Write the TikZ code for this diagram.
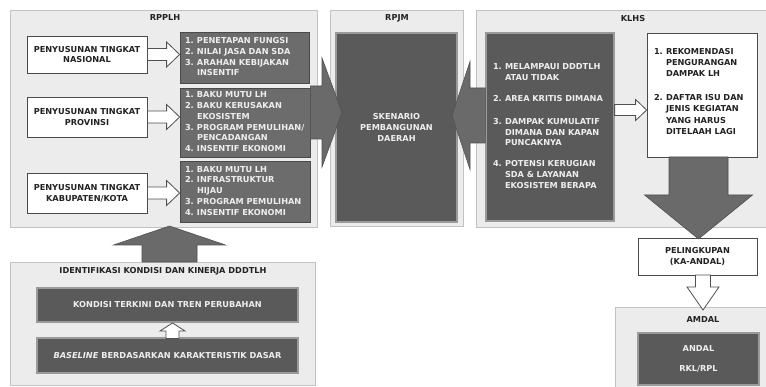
\documentclass[tikz,border=0pt]{standalone}
\usepackage{fontspec}
\setmainfont{DejaVu Sans}
\usetikzlibrary{calc}
\definecolor{panelfill}{HTML}{ECECEC}
\definecolor{panelline}{HTML}{C2C2C2}
\definecolor{darkfill}{HTML}{5A5A5A}
\definecolor{midfill}{HTML}{6C6C6C}
\definecolor{arrowfill}{HTML}{6A6A6A}
\definecolor{arrowline}{HTML}{505050}
\definecolor{boxline}{HTML}{4A4A4A}
\definecolor{glowline}{HTML}{9A9A9A}
\definecolor{lighttext}{HTML}{EEEEEE}
\definecolor{darktext}{HTML}{222222}
\newcommand{\myblockarrow}[6]{%
  \coordinate (mba-a) at (#2);
  \coordinate (mba-b) at (#3);
  \coordinate (mba-c) at ($(mba-b)!#6!(mba-a)$);
  \draw[#1] ($(mba-a)!#4!90:(mba-b)$) -- ($(mba-c)!#4!90:(mba-b)$)
    -- ($(mba-c)!#5!90:(mba-b)$) -- (mba-b) -- ($(mba-c)!#5!-90:(mba-b)$)
    -- ($(mba-c)!#4!-90:(mba-b)$) -- ($(mba-a)!#4!-90:(mba-b)$) -- cycle;}
\newcommand{\itm}[1]{\makebox[12pt][l]{#1}}
\begin{document}
\begin{tikzpicture}[x=1pt,y=-1pt,
  font=\fontsize{8.2}{10.8}\selectfont\bfseries,
  panel/.style={draw=panelline, fill=panelfill, line width=0.8pt},
  title/.style={text=darktext, inner sep=0pt},
  whitebox/.style={draw=boxline, fill=white, line width=0.8pt, text=darktext, align=center, inner sep=2pt},
  midbox/.style={draw=boxline, fill=midfill, line width=0.8pt, text=lighttext, inner xsep=5pt, inner ysep=0pt, align=left},
  darkbox/.style={draw=glowline, fill=darkfill, line width=1.2pt, text=lighttext, align=center, inner sep=0pt},
  hollow/.style={draw=arrowline, fill=white, line width=0.8pt, line join=miter},
  bigarrow/.style={draw=arrowline, fill=arrowfill, line width=0.6pt, line join=miter}]
\useasboundingbox (0,0) rectangle (766,387);
\fill[white] (0,0) rectangle (766,387);
% panels
\node[panel, minimum width=307, minimum height=217] (prpplh) at (163.5,118.5) {};
\node[panel, minimum width=133, minimum height=216] (prpjm) at (396.5,118) {};
\node[panel, minimum width=300, minimum height=217] (pklhs) at (626,118.5) {};
\node[panel, minimum width=305, minimum height=123] (pident) at (162.5,323.5) {};
\node[panel, minimum width=160, minimum height=85] (pamdal) at (695,349.5) {};
% titles
\node[title] (trpplh) at (165,18) {RPPLH};
\node[title] (trpjm) at (397,18) {RPJM};
\node[title] (tklhs) at (633,19) {KLHS};
\node[title] (tident) at (163,271) {IDENTIFIKASI KONDISI DAN KINERJA DDDTLH};
\node[title] (tamdal) at (703,320) {AMDAL};
% RPPLH boxes
\node[whitebox, minimum width=120, minimum height=37] (w1) at (87,54.5) {PENYUSUNAN TINGKAT\\NASIONAL};
\node[whitebox, minimum width=120, minimum height=40] (w2) at (87,117) {PENYUSUNAN TINGKAT\\PROVINSI};
\node[whitebox, minimum width=120, minimum height=40] (w3) at (87,193) {PENYUSUNAN TINGKAT\\KABUPATEN/KOTA};
\node[midbox, minimum width=129, minimum height=51, text width=119] (g1) at (244.5,57.5)
  {\begin{tabular}{@{}l@{}l@{}}\itm{1.}&PENETAPAN FUNGSI\\ \itm{2.}&NILAI JASA DAN SDA\\ \itm{3.}&ARAHAN KEBIJAKAN\\ &INSENTIF\end{tabular}};
\node[midbox, minimum width=130, minimum height=69, text width=120] (g2) at (245,122.5)
  {\begin{tabular}{@{}l@{}l@{}}\itm{1.}&BAKU MUTU LH\\ \itm{2.}&BAKU KERUSAKAN\\ &EKOSISTEM\\ \itm{3.}&PROGRAM PEMULIHAN/\\ &PENCADANGAN\\ \itm{4.}&INSENTIF EKONOMI\end{tabular}};
\node[midbox, minimum width=130, minimum height=61, text width=120] (g3) at (245,191.5)
  {\begin{tabular}{@{}l@{}l@{}}\itm{1.}&BAKU MUTU LH\\ \itm{2.}&INFRASTRUKTUR\\ &HIJAU\\ \itm{3.}&PROGRAM PEMULIHAN\\ \itm{4.}&INSENTIF EKONOMI\end{tabular}};
% RPJM
\node[darkbox, minimum width=121, minimum height=189] (skenario) at (396.5,127.5) {SKENARIO\\PEMBANGUNAN\\DAERAH};
% KLHS
\node[darkbox, minimum width=128, minimum height=188, text width=114, inner xsep=7pt, align=left] (kdark) at (550,127)
  {\begin{tabular}{@{}l@{}l@{}}\itm{1.}&MELAMPAUI DDDTLH\\ &ATAU TIDAK\\[10pt] \itm{2.}&AREA KRITIS DIMANA\\[12pt] \itm{3.}&DAMPAK KUMULATIF\\ &DIMANA DAN KAPAN\\ &PUNCAKNYA\\[10pt] \itm{4.}&POTENSI KERUGIAN\\ &SDA \& LAYANAN\\ &EKOSISTEM BERAPA\end{tabular}};
\node[whitebox, minimum width=110, minimum height=124, text width=96, inner xsep=7pt, align=left] (kwhite) at (702,95)
  {\fontsize{8.2}{11.4}\selectfont\begin{tabular}{@{}l@{}l@{}}\itm{1.}&REKOMENDASI\\ &PENGURANGAN\\ &DAMPAK LH\\[12pt] \itm{2.}&DAFTAR ISU DAN\\ &JENIS KEGIATAN\\ &YANG HARUS\\ &DITELAAH LAGI\\[6pt]\end{tabular}};
\node[whitebox, minimum width=119, minimum height=37] (pel) at (697.5,256.5) {PELINGKUPAN\\(KA-ANDAL)};
\node[darkbox, minimum width=121, minimum height=52] (andal) at (698.5,359) {ANDAL\\[9pt]RKL/RPL};
% identification
\node[darkbox, minimum width=261, minimum height=34] (kondisi) at (167.5,305) {KONDISI TERKINI DAN TREN PERUBAHAN};
\node[darkbox, minimum width=261, minimum height=35] (baseline) at (167.5,355.5) {\textit{BASELINE} BERDASARKAN KARAKTERISTIK DASAR};
% named coordinates for block arrows
\coordinate (bigR-a) at (g2.east |- 0,112.5);
\coordinate (bigR-b) at (342,112.5);
\coordinate (bigL-a) at (kdark.west |- 0,115.5);
\coordinate (bigL-b) at (452,115.5);
\coordinate (down-a) at (698.5,157);
\coordinate (down-b) at (698.5,239);
\coordinate (up-a) at (169.5,262);
\coordinate (up-b) at (169.5,226);
\coordinate (hd-a) at (703,275);
\coordinate (hd-b) at (703,310);
\coordinate (su-a) at (172.5,338.5);
\coordinate (su-b) at (172.5,323);
% arrows
\myblockarrow{hollow}{w1.east}{w1.east -| g1.west}{6pt}{12.5pt}{13pt}
\myblockarrow{hollow}{w2.east}{w2.east -| g2.west}{6pt}{12.5pt}{13pt}
\myblockarrow{hollow}{w3.east}{w3.east -| g3.west}{6pt}{12.5pt}{13pt}
\myblockarrow{bigarrow}{bigR-a}{bigR-b}{26.5pt}{54.5pt}{20pt}
\myblockarrow{bigarrow}{bigL-a}{bigL-b}{27.5pt}{54pt}{18pt}
\myblockarrow{hollow}{kdark.east |- 0,110}{kwhite.west |- 0,110}{5.5pt}{10.5pt}{11pt}
\myblockarrow{bigarrow}{down-a}{down-b}{29.5pt}{54pt}{44pt}
\myblockarrow{hollow}{hd-a}{hd-b}{7.5pt}{16pt}{23pt}
\myblockarrow{bigarrow}{up-a}{up-b}{27.5pt}{56pt}{19pt}
\myblockarrow{hollow}{su-a}{su-b}{6.5pt}{12.5pt}{8pt}
\end{tikzpicture}
\end{document}
